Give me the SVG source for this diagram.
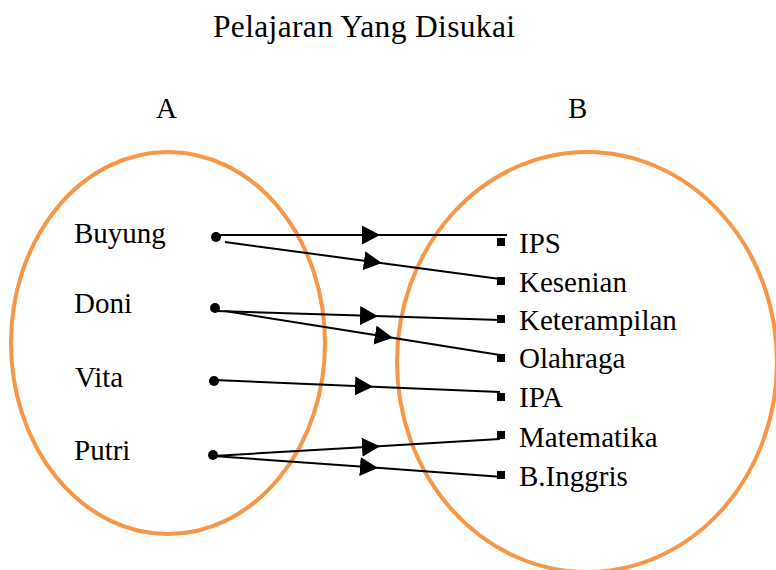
<svg xmlns="http://www.w3.org/2000/svg" width="776" height="570" viewBox="0 0 776 570">
  <style>
    text { font-family: "Liberation Serif", "Times New Roman", serif; font-size: 29px; fill: #000; }
    .set { fill: none; stroke: #F79646; stroke-width: 4; }
    .link { fill: none; stroke: #000; stroke-width: 2; marker-mid: url(#tri); }
    .dot { fill: #000; }
    .sq { fill: #000; }
  </style>
  <defs>
    <marker id="tri" markerUnits="userSpaceOnUse" markerWidth="20" markerHeight="22" viewBox="0 -11 20 22" refX="0" refY="0" orient="auto">
      <path d="M0,-9.5 L18,0 L0,9.5 z" fill="#000"/>
    </marker>
  </defs>

  <rect width="776" height="570" fill="#fff"/>

  <text id="title" x="213" y="37" style="font-size:31.5px" textLength="302">Pelajaran Yang Disukai</text>

  <!-- domain set A -->
  <g id="setA">
    <ellipse class="set" cx="168" cy="343" rx="157" ry="191"/>
    <text x="156" y="118">A</text>
  </g>
  <!-- codomain set B -->
  <g id="setB">
    <ellipse class="set" cx="587" cy="362" rx="190" ry="210"/>
    <text x="568" y="118">B</text>
  </g>

  <g id="buyung"><text x="74" y="243">Buyung</text><circle class="dot" cx="216" cy="237" r="5"/></g>
  <g id="doni"><text x="74" y="313">Doni</text><circle class="dot" cx="215" cy="308" r="5"/></g>
  <g id="vita"><text x="75" y="387">Vita</text><circle class="dot" cx="214" cy="381" r="5"/></g>
  <g id="putri"><text x="74" y="460">Putri</text><circle class="dot" cx="213" cy="455" r="5"/></g>

  <g id="ips"><rect class="sq" x="497" y="238" width="8" height="8"/><text x="519" y="253">IPS</text></g>
  <g id="kesenian"><rect class="sq" x="497" y="277" width="8" height="8"/><text x="519" y="292">Kesenian</text></g>
  <g id="keterampilan"><rect class="sq" x="497" y="315" width="8" height="8"/><text x="519" y="330">Keterampilan</text></g>
  <g id="olahraga"><rect class="sq" x="497" y="354" width="8" height="8"/><text x="519" y="368">Olahraga</text></g>
  <g id="ipa"><rect class="sq" x="497" y="393" width="8" height="8"/><text x="519" y="407">IPA</text></g>
  <g id="matematika"><rect class="sq" x="497" y="431" width="8" height="8"/><text x="519" y="447">Matematika</text></g>
  <g id="binggris"><rect class="sq" x="497" y="471" width="8" height="8"/><text x="519" y="486">B.Inggris</text></g>

  <g id="connectors">
    <path class="link" d="M216,235 L362,235 L507,235"/>
    <path class="link" d="M225,242 L364,260.7 L500,279"/>
    <path class="link" d="M216,311 L360,315.6 L500,320"/>
    <path class="link" d="M225,311 L375,335 L500,355"/>
    <path class="link" d="M214,380 L355,385.9 L500,392"/>
    <path class="link" d="M213,456 L362,447.2 L500,439"/>
    <path class="link" d="M213,456 L360,466.6 L503,477"/>
  </g>
</svg>
